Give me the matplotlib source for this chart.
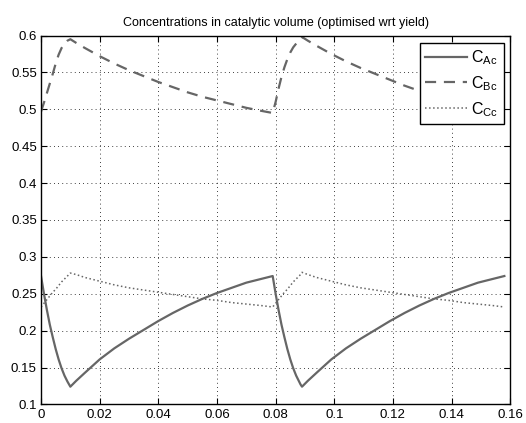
import matplotlib
matplotlib.use("Agg")
import matplotlib.pyplot as plt

# time grid (two cycles)
t = [0.000, 0.001, 0.002, 0.003, 0.004, 0.005, 0.006, 0.007, 0.008, 0.009, 0.010,
     0.012, 0.015, 0.020, 0.025, 0.030, 0.035, 0.040, 0.045, 0.050, 0.055, 0.060,
     0.065, 0.070, 0.075, 0.079,
     0.080, 0.081, 0.082, 0.083, 0.084, 0.085, 0.086, 0.087, 0.088, 0.0885, 0.089,
     0.091, 0.094, 0.099, 0.104, 0.109, 0.114, 0.119, 0.124, 0.129, 0.134, 0.139,
     0.144, 0.149, 0.154, 0.158]

c_ac = [0.274, 0.250, 0.228, 0.208, 0.191, 0.175, 0.161, 0.149, 0.139, 0.131, 0.124,
        0.132, 0.143, 0.161, 0.176, 0.189, 0.201, 0.213, 0.224, 0.234, 0.243, 0.251,
        0.258, 0.265, 0.270, 0.274,
        0.250, 0.228, 0.208, 0.191, 0.175, 0.161, 0.149, 0.139, 0.131, 0.127, 0.124,
        0.132, 0.143, 0.161, 0.176, 0.189, 0.201, 0.213, 0.224, 0.234, 0.243, 0.251,
        0.258, 0.265, 0.270, 0.274]

c_bc = [0.497, 0.509, 0.522, 0.535, 0.548, 0.562, 0.574, 0.583, 0.589, 0.593, 0.595,
        0.590, 0.583, 0.572, 0.562, 0.553, 0.545, 0.537, 0.530, 0.523, 0.517, 0.512,
        0.507, 0.502, 0.498, 0.495,
        0.510, 0.528, 0.544, 0.557, 0.568, 0.577, 0.584, 0.589, 0.594, 0.596, 0.598,
        0.593, 0.586, 0.575, 0.565, 0.556, 0.548, 0.540, 0.532, 0.525, 0.519, 0.514,
        0.509, 0.504, 0.500, 0.497]

c_cc = [0.232, 0.237, 0.242, 0.247, 0.252, 0.256, 0.261, 0.266, 0.270, 0.274, 0.278,
        0.276, 0.272, 0.267, 0.262, 0.258, 0.255, 0.252, 0.249, 0.246, 0.243, 0.241,
        0.238, 0.236, 0.234, 0.232,
        0.237, 0.242, 0.247, 0.252, 0.256, 0.261, 0.266, 0.270, 0.274, 0.276, 0.279,
        0.276, 0.272, 0.267, 0.262, 0.258, 0.255, 0.252, 0.249, 0.246, 0.243, 0.241,
        0.238, 0.236, 0.234, 0.232]

x_ticks = [0, 0.02, 0.04, 0.06, 0.08, 0.1, 0.12, 0.14, 0.16]
x_labels = ["0", "0.02", "0.04", "0.06", "0.08", "0.1", "0.12", "0.14", "0.16"]
y_ticks = [0.1, 0.15, 0.2, 0.25, 0.3, 0.35, 0.4, 0.45, 0.5, 0.55, 0.6]
y_labels = ["0.1", "0.15", "0.2", "0.25", "0.3", "0.35", "0.4", "0.45", "0.5", "0.55", "0.6"]

plt.rcParams["font.family"] = ["Liberation Sans", "DejaVu Sans"]
plt.rcParams["mathtext.default"] = "regular"

LINE = "#666666"

fig = plt.figure(figsize=(5.26, 4.23), dpi=100)
ax = fig.add_axes([0.078, 0.044, 0.892, 0.872])

ax.plot(t, c_ac, "-", color=LINE, lw=1.6, label="$C_{Ac}$")
ax.plot(t, c_bc, "--", color=LINE, lw=1.6, dashes=(5, 3.5), label="$C_{Bc}$")
ax.plot(t, c_cc, ":", color=LINE, lw=1.1, label="$C_{Cc}$")

ax.set_xlim(0, 0.16)
ax.set_ylim(0.1, 0.6)
ax.set_xticks(x_ticks)
ax.set_xticklabels(x_labels)
ax.set_yticks(y_ticks)
ax.set_yticklabels(y_labels)
ax.tick_params(direction="in", top=True, right=True, length=4, width=0.8,
               labelsize=9.5, pad=3)
ax.grid(True, color="black", linestyle=(0, (1, 4)), linewidth=0.6)
for s in ax.spines.values():
    s.set_linewidth(1.0)

ax.set_title("Concentrations in catalytic volume (optimised wrt yield)",
             fontsize=9, pad=7)

leg = ax.legend(loc="upper right", bbox_to_anchor=(0.987, 0.981),
                borderaxespad=0, fontsize=11.5, handlelength=2.6,
                labelspacing=0.45, handletextpad=0.3, borderpad=0.35,
                fancybox=False, framealpha=1, edgecolor="black")
leg.get_frame().set_linewidth(1.0)

fig.savefig("out.png", dpi=100)
